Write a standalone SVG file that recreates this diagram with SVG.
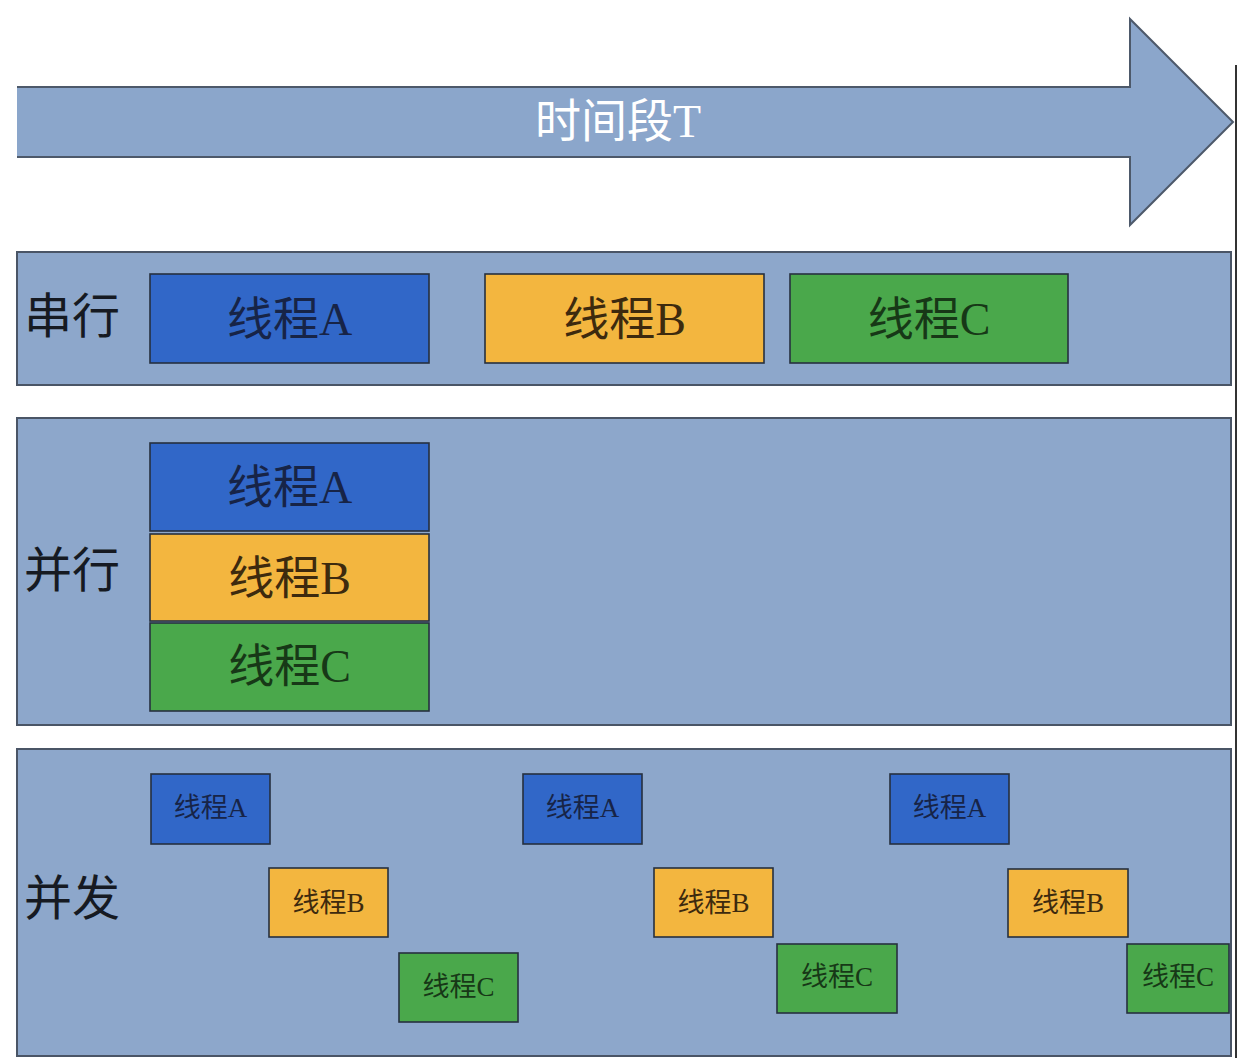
<svg xmlns="http://www.w3.org/2000/svg" width="1240" height="1058" viewBox="0 0 1240 1058">
<style>
.panel{fill:#8DA7CB;stroke:#4a5566;stroke-width:2}
.box{stroke:#26303f;stroke-width:1.6}
.blue{fill:#3167C8}
.orange{fill:#F3B63F}
.green{fill:#4AA84B}
text{font-family:"Liberation Serif","Noto Sans CJK SC",serif;text-anchor:middle}
.lbl{font-size:48px;fill:#161a22;text-anchor:start}
.big{font-size:46px}
.small{font-size:27px}
.tb{fill:#172447}
.to{fill:#3d2a0e}
.tg{fill:#173817}
</style>
<rect width="1240" height="1058" fill="#ffffff"/>
<g id="time-arrow">
<path d="M17 87 H1130 V19 L1233 122 L1130 225 V157 H17" fill="#8BA6CB" stroke="#4d596a" stroke-width="2"/>
<text x="618" y="137" font-size="46" fill="#ffffff">时间段T</text>
</g>
<g id="edge-line">
<line x1="1236" y1="65" x2="1236" y2="1058" stroke="#333" stroke-width="2"/>
</g>
<g id="serial">
<rect class="panel" x="17" y="252" width="1214" height="133"/>
<text class="lbl" x="24" y="333">串行</text>
<g id="serial-A"><rect class="box blue" x="150" y="274" width="279" height="89"/><text class="big tb" x="289.5" y="335">线程A</text></g>
<g id="serial-B"><rect class="box orange" x="485" y="274" width="279" height="89"/><text class="big to" x="624.5" y="335">线程B</text></g>
<g id="serial-C"><rect class="box green" x="790" y="274" width="278" height="89"/><text class="big tg" x="929" y="335">线程C</text></g>
</g>
<g id="parallel">
<rect class="panel" x="17" y="418" width="1214" height="307"/>
<text class="lbl" x="24" y="587">并行</text>
<g id="parallel-A"><rect class="box blue" x="150" y="443" width="279" height="88"/><text class="big tb" x="289.5" y="503">线程A</text></g>
<g id="parallel-B"><rect class="box orange" x="150" y="534" width="279" height="87"/><text class="big to" x="289.5" y="594">线程B</text></g>
<g id="parallel-C"><rect class="box green" x="150" y="623" width="279" height="88"/><text class="big tg" x="289.5" y="682">线程C</text></g>
</g>
<g id="concurrent">
<rect class="panel" x="17" y="749" width="1214" height="307"/>
<text class="lbl" x="24" y="915">并发</text>
<g id="conc-A1"><rect class="box blue" x="151" y="774" width="119" height="70"/><text class="small tb" x="210.5" y="817">线程A</text></g>
<g id="conc-B1"><rect class="box orange" x="269" y="868" width="119" height="69"/><text class="small to" x="328.5" y="912">线程B</text></g>
<g id="conc-C1"><rect class="box green" x="399" y="953" width="119" height="69"/><text class="small tg" x="458.5" y="996">线程C</text></g>
<g id="conc-A2"><rect class="box blue" x="523" y="774" width="119" height="70"/><text class="small tb" x="582.5" y="817">线程A</text></g>
<g id="conc-B2"><rect class="box orange" x="654" y="868" width="119" height="69"/><text class="small to" x="713.5" y="912">线程B</text></g>
<g id="conc-C2"><rect class="box green" x="777" y="944" width="120" height="69"/><text class="small tg" x="837" y="986">线程C</text></g>
<g id="conc-A3"><rect class="box blue" x="890" y="774" width="119" height="70"/><text class="small tb" x="949.5" y="817">线程A</text></g>
<g id="conc-B3"><rect class="box orange" x="1008" y="869" width="120" height="68"/><text class="small to" x="1068" y="912">线程B</text></g>
<g id="conc-C3"><rect class="box green" x="1127" y="944" width="102" height="69"/><text class="small tg" x="1178" y="986">线程C</text></g>
</g>
<g id="connectors"></g>
</svg>
